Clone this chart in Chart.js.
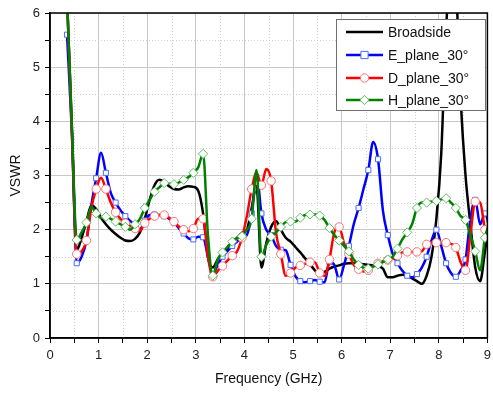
<!DOCTYPE html>
<html>
<head>
<meta charset="utf-8">
<script src="https://cdn.jsdelivr.net/npm/chart.js@4.4.0/dist/chart.umd.min.js"></script>
<style>
  body { margin: 0; background: #fff; }
  #wrap { width: 493px; height: 396px; }
</style>
</head>
<body>
<div id="wrap"><canvas id="vswrChart" width="493" height="396"></canvas></div>
<script>
// frequency grid (GHz)
const freq = [0.35, 0.45, 0.55, 0.65, 0.75, 0.85, 0.95, 1.05, 1.15, 1.25,
  1.35, 1.45, 1.55, 1.65, 1.75, 1.85, 1.95, 2.05, 2.15, 2.25,
  2.35, 2.45, 2.55, 2.65, 2.75, 2.85, 2.95, 3.05, 3.15, 3.25,
  3.35, 3.45, 3.55, 3.65, 3.75, 3.85, 3.95, 4.05, 4.15, 4.25,
  4.35, 4.45, 4.55, 4.65, 4.75, 4.85, 4.95, 5.05, 5.15, 5.25,
  5.35, 5.45, 5.55, 5.65, 5.75, 5.85, 5.95, 6.05, 6.15, 6.25,
  6.35, 6.45, 6.55, 6.65, 6.75, 6.85, 6.95, 7.05, 7.15, 7.25,
  7.35, 7.45, 7.55, 7.65, 7.75, 7.85, 7.95, 8.05, 8.15, 8.25,
  8.35, 8.45, 8.55, 8.65, 8.75, 8.85, 8.95, 9.05];

const broadside = [6.3, 3.9, 1.62, 1.85, 2.15, 2.45, 2.38, 2.22, 2.1, 2.0,
  1.92, 1.85, 1.8, 1.79, 1.83, 1.95, 2.2, 2.55, 2.82, 2.92,
  2.88, 2.8, 2.75, 2.74, 2.78, 2.8, 2.79, 2.72, 2.3, 1.5,
  1.3, 1.45, 1.55, 1.65, 1.76, 1.85, 1.94, 2.0, 2.4, 2.8,
  1.3, 1.75, 2.05, 2.16, 2.0, 1.85, 1.78, 1.68, 1.58, 1.47,
  1.36, 1.25, 1.17, 1.22, 1.28, 1.32, 1.34, 1.37, 1.38, 1.38,
  1.37, 1.36, 1.35, 1.34, 1.32, 1.28, 1.12, 1.12, 1.15, 1.17,
  1.15, 1.1, 1.05, 1.0, 1.15, 1.5, 2.2, 3.4, 5.7, 6.8,
  6.5, 4.4, 3.0, 2.1, 1.3, 1.05, 1.6, 2.2];

const ePlane = [5.6, 3.8, 1.38, 1.5, 1.8, 2.45, 2.95, 3.42, 3.05, 2.68,
  2.5, 2.36, 2.25, 2.16, 2.1, 2.0, 2.17, 2.27, 2.28, 2.27,
  2.25, 2.2, 2.13, 2.03, 1.93, 1.84, 1.82, 1.87, 1.86, 1.5,
  1.18, 1.35, 1.5, 1.6, 1.7, 1.78, 1.85, 1.9, 2.3, 3.05,
  2.3, 2.0, 1.9, 1.7, 1.63, 1.62, 1.35, 1.14, 1.05, 1.03,
  1.05, 1.07, 1.04, 1.03, 1.4, 1.35, 1.08, 1.35, 1.7, 2.1,
  2.4, 2.75, 3.1, 3.62, 3.3, 2.35, 1.9, 1.56, 1.38, 1.24,
  1.15, 1.12, 1.18, 1.3, 1.5, 1.8, 2.0, 1.7, 1.38, 1.2,
  1.13, 1.25, 1.45, 2.2, 2.55, 2.1, 2.3, 2.0];

const dPlane = [6.3, 3.8, 1.55, 1.6, 1.8, 2.4, 2.75, 2.96, 2.75, 2.5,
  2.32, 2.2, 2.12, 2.07, 2.02, 1.98, 2.12, 2.2, 2.25, 2.27,
  2.27, 2.22, 2.15, 2.06, 2.0, 1.97, 2.02, 2.2, 2.2, 1.5,
  1.13, 1.24, 1.33, 1.43, 1.52, 1.6, 1.85, 2.25, 2.75, 3.05,
  2.82, 3.12, 2.9, 1.95, 1.55, 1.15, 1.2, 1.3, 1.34, 1.37,
  1.4, 1.4, 1.2, 1.15, 1.45, 1.95, 2.05, 1.75, 1.55, 1.35,
  1.27, 1.23, 1.25, 1.33, 1.38, 1.42, 1.44, 1.46, 1.52, 1.58,
  1.59, 1.59, 1.59, 1.6, 1.73, 1.77, 1.76, 1.74, 1.76, 1.74,
  1.67, 1.4, 1.25, 1.9, 2.52, 2.5, 2.0, 1.75];

const hPlane = [6.3, 3.9, 1.81, 1.95, 2.13, 2.42, 2.3, 2.22, 2.24, 2.2,
  2.15, 2.1, 2.05, 2.0, 2.1, 2.2, 2.4, 2.55, 2.7, 2.78,
  2.86, 2.85, 2.84, 2.87, 2.92, 2.97, 3.05, 3.15, 3.4, 1.9,
  1.15, 1.45, 1.58, 1.68, 1.78, 1.85, 1.88, 2.0, 2.2, 3.1,
  1.5, 1.72, 1.87, 1.95, 2.05, 2.14, 2.15, 2.15, 2.22, 2.27,
  2.28, 2.28, 2.26, 2.18, 2.03, 1.9, 1.8, 1.7, 1.6, 1.45,
  1.35, 1.3, 1.28, 1.32, 1.36, 1.4, 1.45, 1.5, 1.65, 1.82,
  1.95, 2.1, 2.4, 2.5, 2.5, 2.52, 2.53, 2.56, 2.58, 2.5,
  2.4, 2.25, 2.18, 1.9, 1.6, 1.25, 1.85, 2.15];

const seriesNames = ["Broadside", "E_plane_30°", "D_plane_30°", "H_plane_30°"];

function toPoints(vals) {
  return freq.map((f, i) => ({ x: f, y: vals[i] }));
}

function markerRadius(r) {
  return ctx => (ctx.dataIndex % 2 === 0 ? r : 0);
}

const datasets = [
  {
    label: seriesNames[0], data: toPoints(broadside),
    borderColor: "#000000", borderWidth: 2.5, pointRadius: 0, order: 4
  },
  {
    label: seriesNames[1], data: toPoints(ePlane),
    borderColor: "#0000ff", borderWidth: 2.5, order: 3,
    pointStyle: "rect", pointRadius: markerRadius(3.6),
    pointBackgroundColor: "#ffffff", pointBorderColor: "#4a6cff", pointBorderWidth: 1
  },
  {
    label: seriesNames[2], data: toPoints(dPlane),
    borderColor: "#ff0000", borderWidth: 2.5, order: 2,
    pointStyle: "circle", pointRadius: markerRadius(4.2),
    pointBackgroundColor: "#ffffff", pointBorderColor: "#ff7070", pointBorderWidth: 1
  },
  {
    label: seriesNames[3], data: toPoints(hPlane),
    borderColor: "#008000", borderWidth: 2.5, order: 1,
    pointStyle: "rectRot", pointRadius: markerRadius(4.6),
    pointBackgroundColor: "#ffffff", pointBorderColor: "#5cc05c", pointBorderWidth: 1
  }
];

const isMajor = v => Math.abs(v - Math.round(v)) < 1e-6;

// dotted minor grid (Origin style) behind the curves
const minorGridPlugin = {
  id: "minorGrid",
  beforeDatasetsDraw(chart) {
    const { ctx, chartArea: a, scales } = chart;
    ctx.save();
    ctx.strokeStyle = "#cfcfcf";
    ctx.lineWidth = 1;
    ctx.setLineDash([1, 2]);
    scales.x.ticks.forEach(t => {
      if (isMajor(t.value)) return;
      const x = Math.round(scales.x.getPixelForValue(t.value)) + 0.5;
      ctx.beginPath(); ctx.moveTo(x, a.top); ctx.lineTo(x, a.bottom); ctx.stroke();
    });
    scales.y.ticks.forEach(t => {
      if (isMajor(t.value)) return;
      const y = Math.round(scales.y.getPixelForValue(t.value)) + 0.5;
      ctx.beginPath(); ctx.moveTo(a.left, y); ctx.lineTo(a.right, y); ctx.stroke();
    });
    ctx.restore();
  }
};

// box around the plot + legend inside the plot
const framePlugin = {
  id: "frame",
  afterDraw(chart) {
    const { ctx, chartArea: a } = chart;
    ctx.save();
    ctx.strokeStyle = "#000";
    ctx.lineWidth = 1.5;
    ctx.strokeRect(a.left, a.top, a.right - a.left, a.bottom - a.top);

    const bx = 336, by = 19, bw = 149, bh = 91;
    ctx.fillStyle = "#fff";
    ctx.fillRect(bx, by, bw, bh);
    ctx.strokeStyle = "#707070";
    ctx.lineWidth = 1;
    ctx.strokeRect(bx + 0.5, by + 0.5, bw, bh);

    const rows = [32, 55, 78, 100];
    datasets.forEach((ds, i) => {
      const y = rows[i];
      ctx.strokeStyle = ds.borderColor;
      ctx.lineWidth = 2.5;
      ctx.beginPath();
      ctx.moveTo(346, y);
      ctx.lineTo(383, y);
      ctx.stroke();
      if (ds.pointStyle) {
        const cx = 364.5;
        ctx.fillStyle = "#fff";
        ctx.strokeStyle = ds.pointBorderColor;
        ctx.lineWidth = 1;
        ctx.beginPath();
        if (ds.pointStyle === "rect") {
          ctx.rect(cx - 3.6, y - 3.6, 7.2, 7.2);
        } else if (ds.pointStyle === "circle") {
          ctx.arc(cx, y, 4.2, 0, Math.PI * 2);
        } else {
          ctx.moveTo(cx, y - 4.6); ctx.lineTo(cx + 4.6, y);
          ctx.lineTo(cx, y + 4.6); ctx.lineTo(cx - 4.6, y);
          ctx.closePath();
        }
        ctx.fill();
        ctx.stroke();
      }
      ctx.fillStyle = "#111";
      ctx.font = "14px 'Liberation Sans', Arial, sans-serif";
      ctx.textBaseline = "middle";
      ctx.textAlign = "left";
      ctx.fillText(ds.label, 388, y + 1);
    });
    ctx.restore();
  }
};

new Chart(document.getElementById("vswrChart"), {
  type: "line",
  data: { datasets },
  plugins: [minorGridPlugin, framePlugin],
  options: {
    responsive: false,
    animation: false,
    layout: { padding: { left: 0, top: 13, right: 1, bottom: 0 } },
    elements: {
      line: { cubicInterpolationMode: "monotone" }
    },
    datasets: { line: { clip: 0 } },
    plugins: { legend: { display: false }, tooltip: { enabled: false } },
    scales: {
      x: {
        type: "linear", min: 0, max: 9,
        afterFit: s => { s.height = 58; s.paddingLeft = 0; s.paddingRight = 0; },
        ticks: {
          stepSize: 0.5, padding: 5, color: "#222", maxRotation: 0, autoSkip: false,
          font: { family: "'Liberation Sans', Arial, sans-serif", size: 13 },
          callback: v => (isMajor(v) ? v : "")
        },
        grid: {
          color: c => (isMajor(c.tick.value) ? "#c8c8c8" : "rgba(0,0,0,0)"),
          tickColor: "#000", tickLength: 5, lineWidth: 1
        },
        border: { color: "#000", width: 1.5 },
        title: {
          display: true, text: "Frequency (GHz)", color: "#111",
          font: { family: "'Liberation Sans', Arial, sans-serif", size: 14 },
          padding: { top: 2, bottom: 8 }
        }
      },
      y: {
        min: 0, max: 6,
        afterFit: s => { s.width = 50; s.paddingTop = 0; s.paddingBottom = 0; },
        ticks: {
          stepSize: 0.5, padding: 5, color: "#222", autoSkip: false,
          font: { family: "'Liberation Sans', Arial, sans-serif", size: 13 },
          callback: v => (isMajor(v) ? v : "")
        },
        grid: {
          color: c => (isMajor(c.tick.value) ? "#c8c8c8" : "rgba(0,0,0,0)"),
          tickColor: "#000", tickLength: 5, lineWidth: 1
        },
        border: { color: "#000", width: 1.5 },
        title: {
          display: true, text: "VSWR", color: "#111",
          font: { family: "'Liberation Sans', Arial, sans-serif", size: 14 },
          padding: { top: 8, bottom: 2 }
        }
      }
    }
  }
});
</script>
</body>
</html>
